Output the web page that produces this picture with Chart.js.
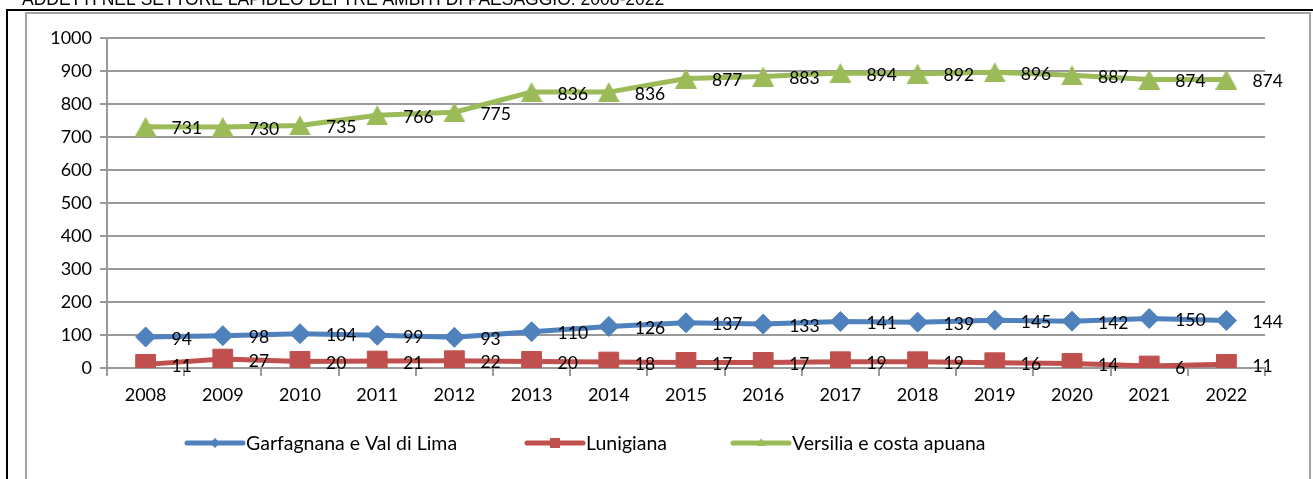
<!DOCTYPE html>
<html>
<head>
<meta charset="utf-8">
<script src="https://cdn.jsdelivr.net/npm/chart.js@4/dist/chart.umd.min.js"></script>
<style>
  html, body { margin: 0; padding: 0; background: #fff; overflow: hidden; }
  canvas { display: block; }
</style>
</head>
<body>
<canvas id="c" width="1313" height="479"></canvas>
<script>
const titleText = 'ADDETTI NEL SETTORE LAPIDEO DEI TRE AMBITI DI PAESAGGIO: 2008-2022';
const years = ['2008','2009','2010','2011','2012','2013','2014','2015','2016','2017','2018','2019','2020','2021','2022'];
const seriesNames = ['Garfagnana e Val di Lima', 'Lunigiana', 'Versilia e costa apuana'];
const garfagnana = [94, 98, 104, 99, 93, 110, 126, 137, 133, 141, 139, 145, 142, 150, 144];
const lunigiana = [11, 27, 20, 21, 22, 20, 18, 17, 17, 19, 19, 16, 14, 6, 11];
const versilia = [731, 730, 735, 766, 775, 836, 836, 877, 883, 894, 892, 896, 887, 874, 874];
const yTicks = [0, 100, 200, 300, 400, 500, 600, 700, 800, 900, 1000];

const FONT = 'Lato, "Open Sans", sans-serif';
const GRID = '#9a9a9a';
const COLORS = ['#4f81bd', '#c0504d', '#9bbb59'];

// upright triangle marker drawn into a small canvas
function triangleMarker(w, h, color) {
  const cv = document.createElement('canvas');
  cv.width = w; cv.height = h;
  const c = cv.getContext('2d');
  c.fillStyle = color;
  c.beginPath();
  c.moveTo(w / 2, 0);
  c.lineTo(w, h);
  c.lineTo(0, h);
  c.closePath();
  c.fill();
  return cv;
}
const bigTriangle = triangleMarker(22, 20, COLORS[2]);
const smallTriangle = triangleMarker(9, 8, COLORS[2]);

// page frame, clipped heading and outer box
const framePlugin = {
  id: 'frame',
  beforeDraw(chart) {
    const ctx = chart.ctx;
    ctx.save();
    ctx.fillStyle = '#fff';
    ctx.fillRect(0, 0, chart.width, chart.height);
    ctx.fillStyle = '#000';
    ctx.font = '17.5px "Liberation Sans", Arial, sans-serif';
    ctx.textBaseline = 'alphabetic';
    ctx.textAlign = 'left';
    ctx.fillText(titleText, 22, 5);
    ctx.fillRect(6, 9, chart.width - 6, 2);
    ctx.fillRect(6, 9, 2, chart.height - 9);
    ctx.strokeStyle = '#a3a3a3';
    ctx.lineWidth = 2;
    ctx.beginPath();
    ctx.moveTo(26, chart.height);
    ctx.lineTo(26, 13);
    ctx.lineTo(1310, 13);
    ctx.lineTo(1310, chart.height);
    ctx.stroke();
    ctx.restore();
  }
};

// value labels to the right of each point
const valueLabels = {
  id: 'valueLabels',
  afterDatasetsDraw(chart) {
    const ctx = chart.ctx;
    ctx.save();
    ctx.font = '17.5px ' + FONT;
    ctx.fillStyle = '#000';
    ctx.textAlign = 'left';
    ctx.textBaseline = 'middle';
    chart.data.datasets.forEach((ds, i) => {
      chart.getDatasetMeta(i).data.forEach((pt, j) => {
        ctx.fillText(String(ds.data[j]), pt.x + 26, pt.y + 2);
      });
    });
    ctx.restore();
  }
};

// legend row below the axis
const legendRow = {
  id: 'legendRow',
  afterDraw(chart) {
    const ctx = chart.ctx;
    const starts = [187, 527, 733];
    const y = 443;
    ctx.save();
    chart.data.datasets.forEach((ds, i) => {
      const x0 = starts[i];
      const cx = x0 + 28;
      ctx.strokeStyle = ds.borderColor;
      ctx.lineWidth = 5;
      ctx.lineCap = 'round';
      ctx.beginPath();
      ctx.moveTo(x0, y);
      ctx.lineTo(x0 + 56, y);
      ctx.stroke();
      ctx.fillStyle = ds.borderColor;
      if (i === 0) {
        ctx.beginPath();
        ctx.moveTo(cx - 5, y); ctx.lineTo(cx, y - 5); ctx.lineTo(cx + 5, y); ctx.lineTo(cx, y + 5);
        ctx.closePath();
        ctx.fill();
      } else if (i === 1) {
        ctx.fillRect(cx - 5, y - 5, 10, 10);
      } else {
        ctx.drawImage(smallTriangle, cx - 4.5, y - 5);
      }
      ctx.fillStyle = '#000';
      ctx.font = '19.5px ' + FONT;
      ctx.textAlign = 'left';
      ctx.textBaseline = 'middle';
      ctx.fillText(ds.label, x0 + 59, y + 1);
    });
    ctx.restore();
  }
};

function series(label, data, color, style, radius) {
  return {
    label, data,
    borderColor: color,
    backgroundColor: color,
    pointBackgroundColor: color,
    pointBorderColor: color,
    borderWidth: 5,
    pointStyle: style,
    pointRadius: radius,
    pointHoverRadius: radius,
    pointBorderWidth: 1,
    tension: 0,
    fill: false
  };
}

new Chart(document.getElementById('c'), {
  type: 'line',
  data: {
    labels: years,
    datasets: [
      series(seriesNames[0], garfagnana, COLORS[0], 'rectRot', 10),
      series(seriesNames[1], lunigiana, COLORS[1], 'rect', 14),
      series(seriesNames[2], versilia, COLORS[2], bigTriangle, 11)
    ]
  },
  options: {
    responsive: false,
    animation: false,
    devicePixelRatio: 1,
    layout: { padding: { left: 0, right: 48, top: 38, bottom: 0 } },
    plugins: { legend: { display: false }, title: { display: false }, tooltip: { enabled: false } },
    scales: {
      x: {
        offset: true,
        grid: { offset: true, drawOnChartArea: false, drawTicks: true, tickLength: 8, color: GRID, lineWidth: 2 },
        border: { display: true, color: GRID, width: 2 },
        ticks: { color: '#000', font: { family: FONT, size: 18 }, padding: 8, maxRotation: 0 },
        afterFit(s) { s.height = 111; }
      },
      y: {
        min: 0, max: 1000,
        afterBuildTicks(s) { s.ticks = yTicks.map(v => ({ value: v })); },
        grid: { color: GRID, lineWidth: 2, tickLength: 7 },
        border: { display: true, color: GRID, width: 2 },
        ticks: { color: '#000', font: { family: FONT, size: 18 }, padding: 8, callback: v => String(v) },
        afterFit(s) { s.width = 107; }
      }
    }
  },
  plugins: [framePlugin, valueLabels, legendRow]
});
</script>
</body>
</html>
